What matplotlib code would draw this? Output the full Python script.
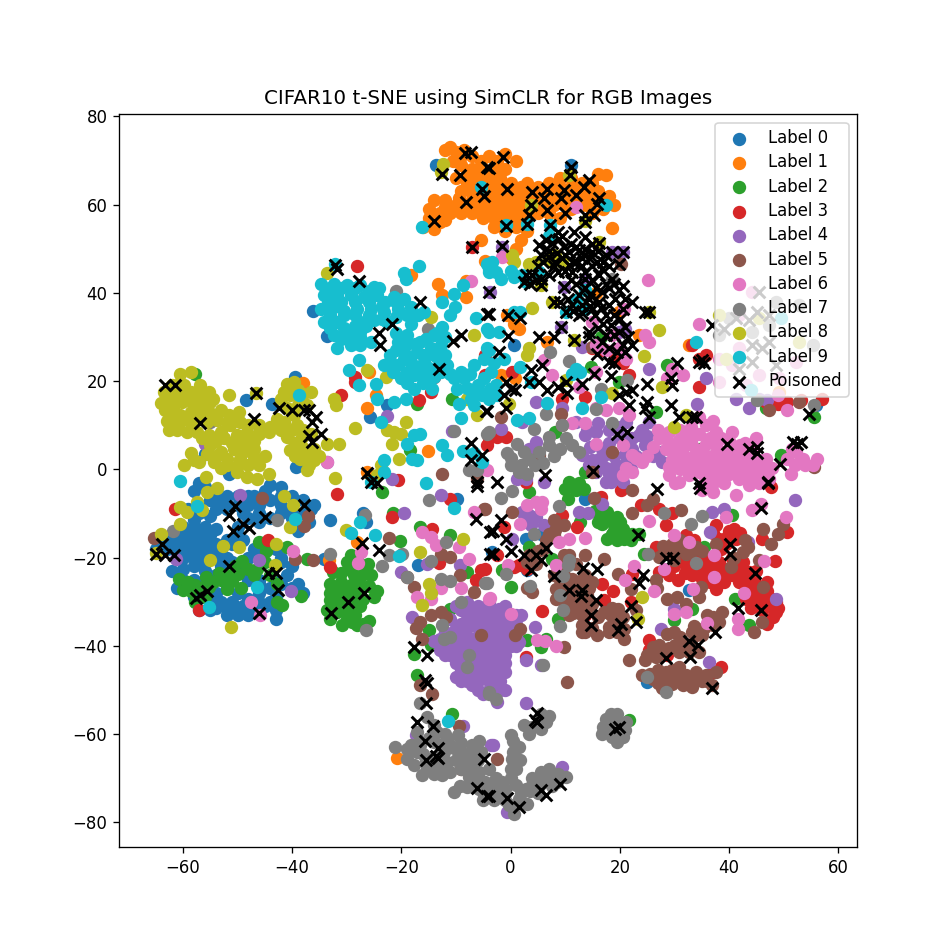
import matplotlib
matplotlib.use("Agg")
import matplotlib.pyplot as plt

TITLE = "CIFAR10 t-SNE using SimCLR for RGB Images"

label_0 = [(-58,-5),(-57,-3),(-56,-4),(-54,-5),(-53,-7),(-55,-7),(-57,-8),(-52,-8),(-50,-8),(-48,-8),(-47,-6),(-45,-5),(-44,-3.5),(-46,-8),(-44,-7),(-42,-8),(-40,-6),(-38,-7),(-36,-8),(-40,-9),(-38,-10),(-37,-12),(-39,-14),(-42,-10),(-44,-11),(-46,-12),(-48,-11),(-50,-13),(-52,-9),(-59,-9),(-57,-10),
(-60,-13),(-58,-13),(-61,-15),(-59,-15),(-57,-15),(-55,-15),(-62,-16),(-64,-16),(-65,-18),(-63,-18),(-61,-18),(-59,-18),(-57,-18),(-55,-18),(-53,-18),(-51,-17),(-49,-16),(-47,-18),(-60,-20),(-58,-20),(-56,-21),(-54,-20),(-52,-20),(-56,-23),(-54,-24),(-60,-25),(-58,-25),(-61,-27),(-50,-23),(-48,-25),(-46,-25),(-42,-20),(-43,-18),(-42,-21),(-46,-26),(-43,-25),(-46,-28),(-44,-27),(-42,-26),(-40,-27),(-38,-28),(-39,-26),(-55,-30),(-53,-30),(-51,-30),(-49,-31),(-47,-31),(-45,-31),(-43,-32),(-55,-32),(-52,-33),(-50,-33),(-48,-33),(-57,-32),(-43,-34),(-42.5,-31),(-54,-28),(-52,-27),(-50,-28),
(-62,-17),(-60,-17),(-58,-17),(-56,-17),(-54,-17),(-52,-16),(-50,-15),(-60,-14),(-58,-14.5),(-56,-13),(-54,-13.5),(-61,-19.5),(-59,-19.5),(-57,-19.5),(-55,-19.5),(-53,-22),(-51,-21),(-58,-22),(-60,-22.5),(-62,-23),(-48,-20),(-46,-18.5),(-56,-26),(-52,-31.5),(-50,-31.5),(-54,-31.5),(-48,-29.5),(-46,-30),(-44,-30),(-41,-24),(-40,-22),(-43,-29),(-52,-6),(-50,-6),(-48,-6),(-49,-10),(-46,-10),(-42,-6),(-40,-11),(-36.5,-9),(-42,-4),(-54,-9),(-55,-10.5),(-58,-11.5),(-56,-29),(-58,-29),
(-33,-11.5),(-27,-10),(-26.5,-12),(-39.5,21),(-48.5,15.6),(-43.6,14.9),(-56,3.5),(-46.7,1.7),(-51.6,-1),(-39.2,0.5),(-36.2,36),(-33.6,30.2),(-13.6,69),(-25.8,11.9),(-22.6,14.5),(2.8,-15.7),(13.7,-6.7),(32.7,-27.4),(24.9,-48.2),(55.9,14.5),(0.6,28.1),(11,69),(5.5,-14.6),(-3.4,-18.8),(3,-22.9),(-17,-21.8),(-34.2,-20.3),(-9.8,-6.7)]

label_1 = [(-10,72),(-8.5,72.5),(-7,71),(-5.5,70),(-4,71),(-2.5,70),(-1,71.5),(1,70),(-9,69),(-7,68),(-5,68),(-3,68),(-1,68),(-10,66),(-8,65),(-6,66),(-4,66),(-2,66),(0,65),(2,64),(-9,63),(-7,62.5),(-5,62),(-3,63),(-1,63),(1,63),(3,65),(5,64),(7,65),(9,66),(11,64),(13,65),(15,65),(16,67),(12,62),(14,62),(16,63),(18,62),(19,60),(17,59),(15,58),(13,60),(10,60),(8,62),(6,60),(4,61),(2,61),(0,60),(-2,60),(-4,60),(-6,60),(-8,60),(-10,60),(-12,61),(-14,61),(-15,59),(-13,58),(-11,58),(-9,58),(-7,58),(-5,57),(-3,57),(-1,57),(1,57),(3,58),(5,58),(7,58),(9,57),(11,59),(-15,57),(-16,55),(-14,54.5),(-13,56),(-3,55),(-1,54),(1,55),(3,54),(2,52),(1,50),(0,48),(-5.5,52),
(-12,72.5),(-11,73),(-10.5,70),(-9,71),(-8,67),(-6,67),(-3,66),(-9.5,61.5),(-7,61),(-4.5,61),(-2.5,61.5),(-12,59.5),(-10,59),(-8,59),(-6,59),(-4,58.5),(-2,58.5),(0,58.5),(2,59),(4,59.5),(6,61.5),(8,60),(10,62),(12,60.5),(14,60),(15,61),(17,61),(3,63),(5,62),(7,63.5),(9,64),(11,66),(13,63),(15,63.5),(-14,57.5),(-12,56.5),(-2,56),(0,55.5),(2,56),(-1,61),(1,61.5),(-6,64),(-4,64),(-2,64.5),(0,62),
(18.5,54.6),(17.4,66.7),(-18.3,44),(-13.2,42),(-12.5,39.5),(-8.2,42.7),(-8.2,39),(-4.6,47.2),(-38,19.6),(-26.2,13.8),(-15.1,4.1),(-26.2,-0.6),(-25.9,22),(-24.7,16.8),(-0.6,35),(1.5,31.9),(0.6,33),(32.7,28.1),(23.5,30.4),(6.7,28.9),(19.9,35.7),(15.6,40),(49.2,17.5),(-33.3,-20.6),(-20.8,-65.5),(-28.1,-16.5),(0.9,20.6),(-1.8,21.3)]

label_2 = [(-60.8,-24.8),(-59,-25.5),(-60,-27.3),(-57.7,-26.3),(-55.7,-24.4),(-54.4,-25.5),(-53.4,-23.4),(-55.3,-26.7),(-57.7,-30.1),(-52,-27.2),(-51,-25.4),(-50,-23.7),(-49.2,-20.9),(-49.3,-27),(-46.4,-22.5),(-46.1,-16.5),(-44.8,-18.6),(-40.9,-17.6),(-42.7,-30),(-41.8,-30.8),(-38.3,-28.7),(-42.7,-25.9),(-56.5,-27),
(-58.5,-27.5),(-56,-29),(-53,-25),(-52,-24),(-50.5,-22),(-48,-22.5),(-45,-21),(-44,-24),(-47,-24),
(-29.3,-19.5),(-26.1,-21.4),(-28.7,-24),(-27.2,-24),(-25.6,-24),(-33,-25.9),(-31.1,-25.5),(-29.3,-26.3),(-27.5,-26.3),(-32,-27.8),(-30.2,-27.8),(-28.4,-28.2),(-25,-29),(-33,-29.7),(-31.1,-30.1),(-29,-30.5),(-33.6,-32),(-31.7,-32.4),(-29.9,-32.4),(-33,-34),(-30.8,-35.4),(-29,-34.6),(-25.9,-34.5),(-28.1,-35.4),(-32.5,-23.3),
(-30,-21),(-28,-21),(-31,-23.5),(-29.5,-22.5),(-26.5,-22.5),(-31.5,-29),(-29.5,-29),(-27,-29.5),(-27.5,-31),(-30.5,-31.5),(-28.5,-33),(-32,-31),(-30,-34),(-27,-35),(-26,-26.5),(-33,-28),(-28,-26),(-24.5,-27.5),
(-20.3,-16.3),(-16.6,-13.1),(-11,-15),(-21.5,-10),(-23.5,-5.1),(-37.2,-20.3),(-10.7,-55.4),(-17.2,-46.7),(-14.6,-39.9),(-17.7,-41.8),(-14.9,-36.5),(-11,-31.6),(-7.9,-23.3),
(10.7,-3.2),(11.9,-4.8),(13.4,-4.4),(10.6,-6.7),(16.5,-10.8),(17.7,-9.7),(19.5,-10.8),(16.8,-12.3),(18.9,-12.7),(20.5,-13.5),(18.6,-14.6),(17.7,-15.7),(20.8,-15.7),(22.3,-14.6),(23.5,-14.6),
(10,-4.5),(12.5,-3),(15.5,-9.5),(17,-9.5),(18,-11),(20,-12),(19,-14),(21,-14.5),(19.5,-16),(16,-12),(22,-16),
(3.4,-5.1),(0,-26.7),(3.1,-38.8),(5.5,-40.3),(6.4,-38.4),(8.6,-33.9),(33.3,-31.6),(29.9,-34.2),(43.7,-35.4),(21.7,-56.9),(24.4,-19.1),(35.4,-17.6),(40.6,-10.4),(3.4,-17.6),(7.6,-20.3),(-1.5,-22.9),(12.8,-12),(41.1,-29.5),(28.7,23.6),(14.7,23.2),(19.9,19.8),(34.5,4.7),(55.6,11.9),(49.5,3.2),(8.2,8.5),(10.7,-2.9),(13.7,-0.6),(46.7,13.8),(16.5,30),(26.6,13),(-57.7,21.7),(-10.7,16),(-17.1,14.9),(-18.4,4.3)]

label_3 = [(40.9,-13.5),(39.7,-15.3),(38.2,-15.7),(41.2,-15.7),(37.6,-12.7),(39.4,-16.9),(50.7,-14.2),(46.1,-15.7),(48.4,-20.9),(38.2,-21),(39.4,-22.5),(41.8,-22.9),(43.7,-23.3),(35.4,-23.3),(36.9,-21.8),(32.1,-21.8),(33.3,-24),(35.1,-24.8),(37.6,-27.1),(39.1,-25.6),(41.8,-25.6),(43.7,-26.7),(43.1,-29.3),(44.9,-27),(47,-25.6),(47.9,-29.3),(48.6,-32.4),(46.7,-30.1),(44.9,-30.1),(47,-35),(48.6,-30.1),(27.2,-23.3),(29,-24),(30.7,-25.2),(26.6,-17.6),(32.1,-15),(33.6,-16.1),(29.6,-10),(28.4,-12.7),(27.2,-8.9),(23.8,-8.2),(20.2,-4.8),(16.5,-6.3),(9.5,-10.4),(12.2,-13.1),(16.8,-25.9),(17.1,-29.7),(5.8,-32.2),(18.8,-27.7),(22.3,-23.7),(22,-30),(2.8,-42.5),(38.5,-44.8),(37,-46),(13.7,-33.1),(1.5,-21.8),(3.1,-22.5),(0.6,-22.1),(-4.6,-22.5),(-2.4,-19.5),(-1.2,-13.1),(28.7,-42.2),(25.4,-38.8),(25.4,-41),(3.7,-19.5),(2.1,-21.4),(47.7,-4),
(37,-14.5),(40,-14),(42,-14.5),(38.5,-18),(40.5,-20),(36,-20),(33.5,-22.5),(35.5,-21),(38,-24),(36.5,-25.5),(40.5,-24),(42.5,-24.5),(44.5,-25),(45,-28.5),(46,-28),(47,-27.5),(47.5,-31),(46,-32),(44,-31.5),(48,-33.5),(49,-31.5),(32,-23.5),(31,-20),(34,-20.5),(30,-22),(42.5,-21),(45,-23),
(34.5,18.7),(47.3,14.5),(48.9,14.9),(50.7,15.3),(57.1,16),(46.7,15.3),(53.1,15.7),(13.6,16.4),(21.7,21.3),(9.5,16),(0.3,22),(-2.4,7.3),(-4,7),(-0.9,7.3),(20.2,-1.4),(2.8,-2.9),(14.9,27.4),(18.9,24.7),(20.5,24),(16.8,27),(34.5,25),(33.3,28.1),(35.7,25.8),
(-28.1,46),(-7.1,50.3),(-31,16.9),(-28.5,21),(-28.4,19.8),(-16.8,15.6),(-14.6,17.5),(-14,21),(-20.7,-2.5),(-4.3,5.4),(-4.6,25.8),(-4.6,21.3),
(-31.7,-5.5),(-61.4,-9.1),(-44.4,-16),(-57,-31.8),(-33,-22.1),(-21.7,-10.8),(-14.3,-13.5),(-11.1,-6.8),(-13.1,-21.2),(-6.4,-25.2),(-5.5,-22.9)]

label_4 = [(-10,-31),(-8,-30),(-6,-31),(-4,-30),(-3,-32),(-1,-31),(-8,-33),(-6,-33),(-4,-34),(-2,-34),(0,-33),(2,-33),(-11,-34),(-9,-35),(-7,-35),(-5,-36),(-3,-36),(-1,-36),(1,-35),(-12,-37),(-10,-37),(-8,-38),(-6,-38),(-4,-38),(-2,-38),(0,-38),(-14,-39),(-12,-40),(-10,-40),(-8,-40),(-6,-40),(-4,-40),(-2,-40),(0,-40),(-13,-41),(-11,-42),(-9,-42),(-7,-42),(-5,-42),(-3,-42),(-1,-42),(-10,-44),(-8,-44),(-6,-44),(-4,-44),(-2,-44),(-1,-46),(-3,-46),(-5,-46),(-7,-46),(-10,-47),(-8,-48),(-6,-48),(-4,-48),(-2,-48),(-1,-50),(-3,-50),(-5,-51),(-7,-49),(-6,-50),
(-9,-32),(-7,-32),(-5,-32),(-10,-36),(-8,-36),(-6,-36),(-4,-36.5),(-2,-36.5),(0,-36),(-13,-38.5),(-11,-38.5),(-9,-38.5),(-7,-38.5),(-5,-38.5),(-3,-38.5),(-1,-38.5),(-12,-42),(-10,-42),(-8,-41),(-6,-41),(-4,-41),(-2,-41),(-9,-43),(-7,-43),(-5,-43),(-3,-43),(-1,-44),(-9,-45.5),(-7,-45),(-5,-45),(-3,-45),(-9,-48),(-7,-47),(-5,-47),(-3,-47),(-4,-50),(-2,-50),(1,-40),(1,-38),(-3,-34.5),(-1,-34),(1,-33),(-5,-34),
(14.4,0.9),(16.2,2.4),(17.4,0.2),(19.3,0.9),(21.1,1.7),(19.9,-1.4),(15.6,-0.6),(22.3,4.7),(23.5,7.7),(24.7,5.4),(21.1,10.7),(25.4,10.7),(11.9,10.7),(13.7,7.7),(15.6,8.5),(16.8,4.7),(13.1,3.2),(22.3,7),(27.2,4),(27.8,1.7),(20.5,-2.9),(18.3,-2.9),(17.4,-2.9),
(17,3),(19,3),(21,3.5),(15,2),(18,-1),(22,0),(23,3),(25,7.5),(20,7),(18,9),(16,10.5),(14,9),(26,3),(24,9),(20,9.5),(18,6),(14.5,5),
(41.2,16),(43.7,13.8),(45.5,16),(47,15.7),(-3.7,40.2),(-1.5,50.4),(18.6,49.3),(20.5,49.3),(9.8,41.4),(13.7,43.2),(9.2,32.3),(19.9,31.1),(21,31.9),(13.1,27.7),(25.4,22.8),(35.7,20.6),(34.2,14.9),(4.6,15.3),(2.1,10.8),(-1.8,9.2),(3.4,4.7),(2.8,-2.1),(5.2,2.4),(1.2,-2.1),(4.6,6.2),(9.5,13.8),(6.1,-2.9),
(2.1,-9.7),(3.4,-10.4),(4.6,-10.8),(6.1,-12.7),(2.4,-12),(3.7,-12.7),(12.5,-9.7),(14.1,-10),(16.8,-7.8),(36.5,-14.2),(36.8,-9.7),(39,-8.9),(43.4,-16.5),(52.1,-7),(48.6,-29.3),(29.9,-31.6),(27.5,-36.1),(36.4,-43.7),(4.5,-35.8),(1.5,-39.1),(-0.6,-40.3),(2.8,-43.3),(5.5,-44.4),(2.8,-53.1),(-3.2,-62.4),(-2.1,-31.6),(-2.4,-52.8),(0.3,-15.7),(9.5,-67.5),(-0.6,-77.7),(-2.1,-47.1),(-2.1,-43.7),
(-49.5,-5.9),(-61.2,-20.3),(-46.1,-20.6),(-40.2,-27.6),(-19.6,-9.9),(-20.1,-23.3),(-12.8,-5.9),(-9.2,-21.8),(-18,-33.5),(-15.3,-21.4),(-8.8,-58.1),(-17.4,-60.3),(-3.6,-62.6),(-22.6,12.1),(-10.7,8.6),(-21.7,-2.1),(-55.9,5.8),(-33.6,1.7)]

label_5 = [(28.4,-46),(29.6,-45.6),(30.8,-44.8),(32.1,-46.7),(33.3,-47.5),(34.5,-47.1),(35.7,-46.7),(37.6,-46),(27.2,-47.1),(26,-47.5),(24.1,-46.7),(27.8,-49.7),(29.6,-48.6),(31.5,-49),(33.3,-49.4),(36.9,-49),(21.7,-43.2),(24.7,-43.3),(26.6,-42.6),(26,-40.3),(27.2,-39.9),(30.2,-39.9),(30.8,-41.4),(32.7,-41.4),(34.5,-41.4),(33.3,-36.9),(35.1,-37.6),(37,-35.4),(38.8,-32.4),(36,-33.1),(38.2,-34.6),(28.7,-29.3),(30.5,-29),(32.1,-30.5),(34.5,-29),(34.8,-26.7),(29.9,-36.9),(28.7,-37.3),
(25.5,-46.5),(27,-45.5),(31,-47),(30,-47.5),(28.5,-47.5),(32,-48.5),(35,-48),(27,-48.5),(34,-46),(36,-48),(25,-42),(27.5,-41.5),(29,-40.5),(31.5,-40),(33,-39.5),(31,-38),(34,-37.5),(35.5,-36),(37,-33.5),(33.5,-35.5),
(10.7,-19.5),(13.7,-19.5),(17.1,-20.3),(7.9,-24),(9.8,-24),(11.3,-24.8),(13.7,-24),(14.9,-25.6),(8.3,-27.1),(10.1,-26.3),(12.5,-26.3),(14.4,-27),(8.3,-29.3),(11.3,-29.3),(13.4,-29.3),(11.9,-31.2),(13.7,-31.2),(10.7,-33.1),(13.1,-35.4),(13.7,-36.9),(15.9,-37.6),(17.1,-32.4),(18.3,-33.1),(19.6,-31.6),(18,-35.8),(19.6,-34.6),(20.8,-38.4),(20.8,-36.1),(19.6,-23.7),(22,-27.1),(26.6,-25.2),(26.9,-27),(22.9,-32),(10.4,-48.2),(-2.4,-65.6),(4,-27.8),(3.1,-27),
(9,-25),(11,-27.5),(13,-25),(9.5,-28),(12,-28),(14,-28.5),(10,-30.5),(12.5,-30.5),(15,-30.5),(11.5,-32.5),(13,-33),(16,-33.5),(14,-31.5),(13,-37),(15,-36),(18.5,-31.5),(20.5,-33.5),(18,-37),(19.5,-37),(9.5,-22),(12,-21.5),
(29.6,-16.9),(30.8,-18.4),(32.1,-19.1),(33.9,-17.6),(29,-18.7),(27.2,-19.9),(37.6,-16.9),(42.5,-18.7),(43.4,-17.6),(40.3,-22.1),(45.5,-20.6),(47.7,-16.9),(48.9,-14.6),(49.8,-12.3),(46.2,-13.5),(46.2,-26.7),(46.1,-34.6),(44.6,-36.9),(31.2,-9.3),(25,-8.2),(22.3,-9.8),(22.3,-4.8),(26,-6.7),(15.2,-6.5),
(31,-16),(28,-17.5),(30,-20.5),(31.5,-17.5),(35,-18.5),(33,-19),(43,-16),(41,-20),(6,-18),(3,-21),(5,-18.5),(8,-15),
(7.9,-11.6),(9.8,-12.7),(8.2,-13.8),(7,-14.6),(6.4,-16.1),(9.8,-19.5),(3.4,-19.5),(4.6,-21.4),(0.2,-9.7),(-4.6,-8.9),(0.9,-37.6),(1.8,-36.1),(9.8,-40.3),
(-45.5,-6.5),(-37.1,-10.6),(-37.9,-12.9),(-65.3,-15.6),(-39.4,-20.3),(-36.2,-20.5),(-22.2,-15.5),(-18.9,-24.4),(-17.7,-26.7),(-12.8,-19.1),(-11,-19.9),(-9.2,-24),(-6.7,-27.8),(-4.9,-8.9),(-12.8,-32.4),(-14.6,-33.1),(-16.5,-34.6),(-17.4,-36),(-11.9,-33.5),(-16.2,-38.4),(-14.3,-50.9),(-16.6,-49),(-9.5,-58.1),(-9.1,-67.9),(-5.5,-37.5),
(-12.5,-1),(-6.1,-2.1),(15,27.8),(9.2,12.6),(9.5,10),(18.6,4),(55.6,0.5),(47.3,13.4),(52.8,15.3),(20.2,46.6),(-1.8,11.9),(5.2,3.2),(14.9,-0.6)]

label_6 = [(27.2,7),(29,8.5),(30.9,6.6),(32.7,7.7),(34.5,11.9),(35.7,10),(37.6,8.5),(40.6,8.5),(28.4,4.7),(30.2,3.9),(32.1,5.4),(33.9,4.7),(35.7,5.8),(37.6,5.4),(38.8,3.9),(40.6,4.7),(42.5,3.2),(44.3,4.7),(44.9,7),(46.7,2.4),(47.9,0.2),(46.1,0.2),(44.3,0.9),(42.5,0.9),(40.6,1.7),(38.2,1.7),(36.4,1.7),(34.5,1.7),(32.7,1.7),(30.9,2.4),(29,-1.4),(30.9,-2.9),(32.7,-1.4),(34.5,-0.6),(36.4,-1.4),(38.2,-1.4),(40,-1),(41.8,-2.1),(43.7,-2.1),(45.5,-2.1),(47.3,-2.1),(50.7,2.4),(52.2,3.9),(53.5,2.4),(56.2,2.4),(55.3,0.9),(51.3,-1),(51.6,4.7),
(29,6),(31,5),(33,6.5),(34.5,8),(36.5,7),(38.5,7),(40,6.5),(42,5.5),(43,6),(29.5,2),(31.5,3.5),(33.5,3),(35.5,3.5),(37.5,3.5),(39.5,2.5),(41.5,2.5),(43.5,2.5),(45.5,2),(45,-1),(43,-0.5),(41,-0.5),(39,0),(37,0),(35,0),(33,0),(31,0),(29,0.5),(35.5,-3),(37,-3),(39,-3),(47,-1),(52,1),(54,1),(26,5),(25,3),(27,9),(37,11),(33,9.5),(31,9),(23,2.5),
(22.3,3.2),(24.1,1.7),(21.1,0.2),(20.5,-1.4),(22.3,-0.6),(29.6,22.8),(28.7,20.6),(31.5,21.3),(24.7,30.4),(25.4,28.9),(25.2,42.9),(11.9,59.5),(-1.5,48.2),(34.5,33),(19.9,13.8),(15.6,13.8),(17.4,13.4),(13.7,10.4),(11.3,10.4),(15.6,5.8),(21.7,12.3),(20.5,5.4),
(38.2,25),(41.8,27.4),(44.3,40.2),(41.8,34.9),(40.6,23.6),(45.5,21.3),(49.2,20.6),(50.7,13.4),(48.9,16.8),(38.2,19.8),(43.1,19),(52.2,24.3),(19.9,27.4),(21.1,25.1),(15.6,28.1),(17.4,27),(12.5,18.7),(7.6,21.3),(6.1,24.7),(15.6,22),(18.6,30.4),(15,33.4),(20.8,36.4),
(3,-8.2),(4.6,-7.4),(5.8,-7.4),(5.5,-9.1),(1.7,-12.3),(8.9,-16.5),(10.7,-15.7),(13.6,-15.6),(8.4,-21.8),(-0.4,-21.6),(-3.7,-29.2),(0.1,-32.7),(4.9,-38.8),(6.3,-38.9),(8.4,-40.1),(22.6,-21.9),(20.9,-25.2),(28.1,-22.5),(26.3,-27.7),(29.9,-14.8),(32.6,-16.5),(25.4,-11.8),(33.4,-27.1),(30,-32.7),(32.1,-32.4),(36,-34.8),(41.7,-33.9),(41.7,-36.1),(42.8,-28),(37.3,-19.5),(37.3,-24.4),(46.4,-20.8),(39.4,-10.8),(41.2,-5.9),(44.3,-9.3),(45.9,-7.8),(50.5,-10.8),(37,-5.1),(35.7,-4),(35.1,-4.8),(30.2,-3.2),(43.7,-3.6),(45.5,-3.2),
(-39.8,-18.6),(-47.5,-30.1),(-45.8,-33.1),(-27.3,-18.7),(-28,-21.2),(-16.2,-14.2),(-14.6,-15.3),(-13.7,-17.2),(-9.5,-17.6),(-7.6,-20.3),(-12.8,-27),(-9.1,-26.9),(-17.2,-29),(-14.6,-29.3),(-6.7,-9.7),(-3.9,-29.3),(-7.3,42.7),(-33.6,1.7),(-4.3,-0.2)]

label_7 = [(-21.1,-63),(-18.3,-62.6),(-18.9,-65.6),(-17.1,-64.1),(-15.3,-67.9),(-13.4,-67.1),(-17.7,-67.1),(-16.2,-69.4),(-12.5,-69.4),(-11,-68.6),(-10.4,-73.2),(-9.2,-71.7),(-7.3,-67.9),(-7.6,-69.8),(-5.8,-61.5),(-7.3,-64.1),(-5.8,-68.6),(-4.9,-73.9),(-5.8,-72.4),(-11.6,-61.1),(-9.7,-60.3),(-13.4,-59.6),(-15.3,-56.2),(-17.1,-59.6),(-14,-61.8),(-10.4,-63.3),(-12.2,-64.1),(-9.1,-64.1),(-16.5,-62.6),(-14.6,-65.6),(-11.6,-66.4),(-7.9,-66.4),(-16.5,-53.1),(-3.9,-50.5),(-26.5,-36.5),(-12.2,-38.4),(-11,-38),(-7.9,-44.8),(-7.6,-42.2),(-12.6,-35.4),(-9.1,-30.1),(-12.8,-24.8),(-11,-25.4),(-14.6,-20.9),(-11.9,-16.5),(-22.3,-19.5),(-19.8,-19.1),(-23.5,-22),(-18.9,-24.4),(-33,-19.3),(-26.6,-10.3),(-14.9,-7),(-42.7,-11.6),(-61.9,-14.1),(-4.6,-25.7),
(-19,-63.5),(-17,-62),(-16,-64.5),(-15,-61),(-13,-62.5),(-11,-62.5),(-9,-62),(-7,-62.5),(-5.5,-64),(-12,-60),(-14,-58),(-15.5,-66),(-13.5,-65.5),(-10,-66),(-8.5,-65),(-6,-66),(-9,-68),(-14,-69),(-12,-67.5),(-8,-72),(-6,-70),(-4,-68),(-3.5,-71.5),(-2,-72),(-5,-75),(-3,-75),(-1,-75),(1,-76),(2,-73.5),(3.5,-73),(5,-73.5),(4,-71.5),(6,-70),(7,-70),(8.5,-71),(1,-71.5),(0,-70),(1,-68),(-1,-72.5),(0.5,-61.5),(0.5,-64),(19,-58),(18,-58),(20,-58),(17,-58.5),(21,-59),(18,-59.5),(5.5,-57),(4,-58.5),(7,-56),(3,-1),(4.5,1),(6,1.5),(8,3),(9,4.5),(0,2.5),(2,1),
(-4.6,-70.9),(-2.7,-70.1),(-1.5,-70.9),(-3.4,-73.2),(-1.2,-73.9),(0.6,-78.1),(-0.3,-76.2),(1.5,-74.7),(3,-75.8),(2.8,-72.4),(4,-70.1),(5.5,-68.6),(7,-67.9),(8.6,-69),(10.1,-69.8),(5.2,-71.7),(7.6,-71.7),(0,-60.3),(1.5,-63),(0.3,-65.6),(1.8,-66),(0,-67.9),(2.4,-58),(3.4,-60),(5.5,-55.4),(6.4,-57.3),(5.5,-58.8),(18.3,-55.4),(19.5,-55.4),(17.4,-56.6),(21.1,-57.3),(16.8,-60),(18.6,-60.7),(20.5,-60.7),(19.5,-61.8),(-4,-50.9),(-2.7,-52),(6,-44.4),(9,-28.4),(9.6,-24.2),(10.7,-20.6),(10.6,-21.8),(9.6,-31.8),(9,-35.5),(3.5,-26.5),(-0.9,-23.7),(-4.3,-25.8),(-1.8,-6.5),(0.2,-5),(8.9,-8.4),(4.3,-14.6),(28.1,-9.8),(35.1,-10.7),(33,-12.5),(25.1,-19.3),(34,-21.2),(24.9,-47.1),(28.4,-50.5),
(7.3,26.5),(10.7,24.6),(16.5,18.3),(21.4,20.2),(15.7,13.6),(6.4,12.6),(4.3,9.2),(9.5,10.1),(18.6,10.4),(7,7.3),(1.2,5.8),(2.4,3.9),(-0.6,3.6),(3.4,2.4),(0,0.9),(1.5,-0.6),(5.2,3.9),(7,5.4),(10.1,7),(11.3,5.4),(12.5,3.9),(-4,8.5),(18.6,43.2),
(45.2,15.7),(55.6,14.5),(48.6,38),(52.8,37.2),(55.3,28.1),(40,34.2),(44.3,31.1),(47.3,32.7),(38.2,30.4),(-21,40.4),(-15.2,31.7),(-7.6,-0.2),(-6.1,-0.2),(-4.3,8.1),(-55,10.7),(-10.4,8.6)]

label_8 = [(-60.5,21.7),(-58.6,22),(-63.5,17.5),(-62.3,16),(-61.1,17.5),(-59.8,19),(-58.6,17.5),(-56.8,19),(-55.3,17.5),(-63.2,13.4),(-61.7,14.5),(-60.1,15.3),(-58.3,15.3),(-56.5,16),(-55,15.3),(-62.3,12.3),(-60.5,12.3),(-58.6,13),(-56.8,13.8),(-55.3,13),(-53.1,13.4),(-62.6,8.8),(-60.8,10.4),(-59.2,8.5),(-58.3,10.4),(-55.6,10.7),(-53.7,11.1),(-51.6,12.3),(-49.8,13),(-51.6,16.8),(-46.7,17.2),(-55.3,7.7),(-53.1,8.5),(-51.3,10),(-49.5,10.7),(-48.2,8.5),(-45.8,8.9),(-44.3,8.5),(-55,5.4),(-52.5,7),(-50.1,7.7),(-48.2,5.8),(-47,4.7),(-53.1,3.9),(-50.7,4.7),(-58.6,3.6),(-59.8,1),(-57.1,1.6),(-54.3,1.6),(-51.9,2.4),(-49.5,2.4),(-47,2.8),(-53.1,0.2),(-50.1,-0.6),(-48.2,-1.7),(-46.4,-2.1),(-44.3,-1),(-55.7,-1.7),
(-61,19),(-62,19),(-60,17),(-57.5,17),(-54.5,16),(-64,15),(-63,11),(-61,11),(-59.5,11.5),(-57,12),(-54,12),(-52,10.5),(-50.5,11.5),(-61,9),(-57.5,8.5),(-56.5,7),(-54,6.5),(-51,6),(-49,6),(-47,6.5),(-46,8),(-54,3),(-52,1),(-50,1),(-48,1),(-49,4),(-55.5,3.5),(-58,2),(-46,1),(-45,3),(-40.5,18),(-39,18),(-38,17),(-41,14),(-39,14.5),(-42,9),(-40,9),(-38,9),(-39.5,6),(-36.5,8),(-37.5,3.5),(-39.5,3),(-37,1),(-35,3),(-43,10),(-46,10),(-48,10),
(-40.9,19.4),(-39.7,19.8),(-41.5,17.5),(-40.3,16.8),(-36.6,17.5),(-38.5,15.3),(-42.1,16),(-37.2,14.5),(-42.7,11.5),(-39.7,12.3),(-44,9.6),(-41.5,10.7),(-40.9,7.3),(-39.1,10),(-38.2,7.3),(-40.3,4.3),(-38.2,5.1),(-36,4.7),(-33.6,5.8),(-31.5,5.8),(-38.5,2.4),(-36,2),(-37.2,-0.2),(-32.3,16),(-32,14.5),(-28.5,9.4),(-32.2,-2),(-20.4,2.4),(-19.2,10.8),(-21.4,8.5),(-20.1,8.1),(-22.6,8.8),(-21.7,5.8),(-26.2,22.4),(-22.9,21),(-14.6,34.5),(-33.6,44.4),(-12.3,69.3),(-12.8,67.4),(-23.8,1),(-24.4,-1.4),(-7.9,16),(-6.1,12.3),(-6.7,30.4),
(-51.1,-35.8),(-60.5,-12.3),(-59.2,-9.7),(-60.5,-8.5),(-64.1,-14.6),(-56.5,-9.3),(-57.5,-7.4),(-55.6,-5.1),(-53.7,-4.2),(-52.6,-17.4),(-49.8,-17.6),(-55.1,-20.6),(-42.9,-16.9),(-40.4,-13.1),(-39.8,-8.2),(-41.4,-6.1),(-43.2,-21.6),(-64.9,-18.9),(-30.2,-13.8),(-16.6,-18.7),(-14.9,-26.1),(-14.5,-28),(-16.2,-30.8),(-8.7,-15.9),
(4,36.6),(0.3,48.5),(0.6,47),(3.4,46.6),(4.6,47),(3.1,25.8),(3.4,27.4),(27.2,31.5),(24.4,25.7),(27.8,18.7),(18.6,17.2),(29.9,9.6),(32.1,12.3),(10.1,20.2),(-0.3,14.9),(11.6,29.3),(8.2,48.5),(10.7,66.7),(3.7,60),(13.7,56.2),(5.5,41.7),(16.2,51.5),(7.6,38),(25.4,35.7),(7,47.4),(9.5,47),(38.2,34.9),(45.5,34.2),(52.8,28.9),(39.4,25.1),(24.1,-29),(23.3,-34)]

label_9 = [(-34.8,42.1),(-32.4,42.1),(-29.9,41.7),(-27.5,41.7),(-25,41.3),(-34.2,39.5),(-31.7,39.5),(-29.3,39.5),(-26.9,39.1),(-24.4,39.5),(-21.4,39.1),(-19.5,38.7),(-34.8,36.4),(-32.4,36.8),(-30.5,36),(-28.1,36.4),(-25.6,36.4),(-23.2,35.7),(-20.7,36.4),(-18.3,36.8),(-15.9,35.7),(-34.2,33.4),(-31.7,33.4),(-27.5,33.4),(-25,33.8),(-22.6,33.4),(-18.3,33),(-32.4,30.4),(-29.9,31.1),(-27.5,31.1),(-25.6,28.9),(-31.7,27.4),(-29.3,28.1),(-27.5,28.1),
(-33,41),(-31,41),(-28.5,41),(-26,40.5),(-24,41),(-33.5,38),(-31,38),(-28.5,38),(-26,38),(-23,38),(-21,38),(-33,35),(-30.5,35),(-28.5,35),(-26,35),(-23.5,34),(-21,34.5),(-19,35),(-17,35),(-33,32),(-30.5,32),(-28.5,32.5),(-26.5,32.5),(-31,29.5),(-29,29.5),(-27.5,30),(-23.5,37),(-33,37.5),
(-20.7,28.9),(-18.9,30.4),(-16.5,28.9),(-14,30.4),(-12.5,32.3),(-22,25.8),(-19.5,27.4),(-17.1,26.6),(-14.6,27.4),(-12.8,28.1),(-23.2,23.6),(-20.7,23.6),(-18.3,24.3),(-15.9,24.3),(-13.4,25.5),(-20.1,20.6),(-17.7,21.3),(-15.2,20.6),(-12.8,22),(-17.7,18.3),(-14.3,18.3),(-10.4,20.6),(-8.5,20.6),(-11.6,23.6),(-9.8,18.3),(-6.7,23.6),(-4.9,25.1),(-4.9,20.6),(-7.3,16),(-5.2,16.8),(-9.5,14.9),(-4.3,27.4),(-6.7,14.5),
(-21,31),(-19.5,29),(-17.5,28.5),(-15.5,29.5),(-13.5,31),(-12,30),(-21,27),(-18.5,25.5),(-16,26),(-14,26),(-12,26),(-22,24.5),(-19.5,25),(-17,23),(-15,23),(-13,23.5),(-21.5,22),(-19,22),(-16.5,21.5),(-14,21),(-11,21.5),(-19,19.5),(-16,19.5),(-9,22),(-7.5,21.5),(-8,18.5),(-6,19),(-6.5,17),(-3.5,22),
(-29.6,22.4),(-27.8,24.7),(-27.8,19),(-24.7,19.4),(-24.4,16),(-21.4,15.3),(-19.2,16),(-23.8,10.7),(-9,11.6),
(-19.5,44.4),(-16.8,46),(-19.2,43.2),(-10.4,39.8),(-8.8,41.7),(-12.5,38),(-10.1,36.8),(-11,34.9),(-6.4,34.2),(-4.3,31.9),(-4.3,46.6),(-4,44.7),(-32.1,46.6),(-16.2,55),(-5.5,64),
(-17.7,7.7),(-16.5,8.1),(-19,5.8),(-18,2.4),(-17.1,2),(-12.5,5.5),(-11.6,3.2),(-8.8,4.1),(-6.7,3.6),(-5.2,1.7),(-23.2,2),(-23.2,-0.6),(-15.4,-3.2),(-60.6,-2.7),(-38.7,16.9),(-25.6,-2.9),
(-4,45.5),(-2.7,44.8),(-1.8,43.2),(0,45),(0.6,43.6),(2.1,44),(2.8,42.5),(5.2,44.8),(17.4,59.9),(-0.8,55.3),(3,55.7),(7.2,55.5),(7,53),(10.1,35.7),(11.9,38.3),(13.7,40.6),(13.7,36.4),(0.6,35.7),(1.8,35.7),(-4,31.1),(-2.1,31.1),(-4,27),(-1.2,25.1),(-3,24),(1.8,23.2),(11.3,21.7),(12.8,22),(11.9,22.8),(-3.7,18.3),(-2.4,16.8),(-4,16),(-2.7,19),(16.5,16.4),(13.1,13.9),(6.7,15.1),(1.2,11.1),(3.4,11.7),(3.7,19.8),(34,28.9),(44,17.9),(49.5,34.2),(-3.4,47),
(-29.3,-14.4),(-27.6,-12),(-24.9,-15),(-20.4,-19.7),(-46.4,-26.8),(-55.3,-31.2),(-57.5,-8.3),(-39.5,-11.2),(-11.5,-57.1),(-10.4,-8.7)]

poisoned = [(-1.4,70.8),(-4,68.2),(11,68.6),(10.9,66.7),(-0.6,63.6),(4,62.9),(6.7,63.6),(6.1,61.4),(9.8,63.3),(11.9,62.1),(13.4,64),(14.4,65.5),(16.2,61.4),(15.9,60.2),(9.2,61.4),(3.7,60),(6.7,58.7),(9.9,58.2),(13.7,57.6),(15.3,57.6),(3.4,57.6),(3,55.7),(13.7,56.1),(-0.8,55.2),(7.2,55.5),(-1.5,50.6),(8.6,53.8),(11.6,53.7),(13.7,52.7),(16.2,51.2),
(5.2,50.8),(6.4,50),(7.6,51.2),(8.9,52.3),(9.8,50.4),(10.7,49.3),(5.5,48.5),(7,48.2),(8.2,47),(9.5,47.8),(10.7,46.3),(8.6,44.8),(12.5,49.7),(13.7,50),(14.9,49.3),(13.1,47.8),(14.4,47.8),(15.9,47),(17.4,48.5),(18.6,49.3),(20.5,49.3),(19.9,46.6),(16.8,45.5),(18.6,43.2),(13.7,44.8),(16.2,44),(13.7,43.2),(11.3,44.8),(11,42.9),(9.8,41.4),(5.5,41.7),(5.5,43.2),(4,44),(2.8,44),(2.4,42.5),(4.6,42.9),(13.7,41),(15.6,41),(16.8,40.2),(18,41),(19.9,40.6),(19.2,38.7),(22.3,38),(20.5,36.4),(18,37.2),(16.2,38),(14.4,38.7),(13.1,37.2),(15,36.4),(12.5,34.9),(11.3,37.2),(10.1,35.7),(7.9,38),(24.7,35.7),(25.4,35.7),(17.4,35),(18.3,32.7),(21,32.3),(9.2,32.3),(7.9,30),(5.2,30),(11.6,29.3),(14.4,31.1),(14.4,30),(16.8,28.9),(15.9,26.2),(18.9,30.4),(19.9,31.1),(20.5,28.1),(22.3,28.1),(21,26.6),(18,24.3),(18.9,24),(-0.4,35),(1.7,34.2),(-4,35.1),(-0.5,30.2),(-2.1,26.6),
(6,47),(7,49.5),(8.5,49),(10,48.5),(11.5,47),(12,50.5),(13,46),(15,46),(17,47),(15,43),(17.5,42),(14.5,39.5),(12.5,39.5),(10.5,38.5),(9,38),(15.5,35),(17,33),(19,35),(16,32),(20,34),(17.5,30.5),(21.5,30),(19.5,26.5),(18,27.5),(12,47),(13.5,48.5),(16,49.5),(6.5,52),(9.5,53),(7,44),(3.5,42),(5,46),(19,42),(20.5,41.5),(12,42),(14.5,37),(11.5,36),(13,35.5),(16.5,36.5),(21,38.5),(11,51),(10,45),(8,46),(18,46),(15,51),
(3.7,22.4),(5.8,23.6),(3.4,19.8),(5.2,19.8),(-0.9,19.8),(0,18.3),(-1.2,16.8),(0.9,17.9),(-0.9,13.8),(-4.3,13.2),(6.7,17.9),(8.6,18.7),(10.1,19.8),(10.4,17.2),(13.1,19.4),(15.3,21.7),(18.3,21.1),(19.9,16.8),(21.1,17.5),(22.3,17.9),(21.7,14.5),(25,19.4),(25,15.3),(24.7,13.8),(25.4,11.9),(29.4,20.6),(29.6,19),(30.5,24),(29.3,14.5),(30.8,11.9),(33.3,11.9),(34,11.9),(19.5,8.1),(21.4,8.5),(39.7,5.8),(43.7,4.7),(45.2,5),(45.2,3.6),(51.8,6.2),(52.5,5.8),(53.2,6.2),(49.3,1.1),(47.2,-2.9),(34.5,-3.2),(15.1,-0.5),(-2.4,-2.9),(6.3,-1.2),(34.5,24.3),(35.1,24.7),(35.4,24),
(36.9,32.7),(39.1,31.9),(41.2,34.2),(43.7,33.8),(45.5,40.2),(45.2,35.7),(47.3,34.9),(44.3,28.1),(47.3,28.9),(46.1,27.4),(44.3,24.3),(41.8,22.8),(48.6,23.6),(54.7,12.6),
(-63.2,19.2),(-61.4,19.2),(-46.7,17.2),(-56.9,10.4),(-46.9,11.5),(-42.4,14),(-40,13.5),(-37.9,13.5),(-36.9,13.4),(-35.7,11.9),(-36.3,10.7),(-36.9,7.5),(-34.8,7.9),(-36.3,6.3),(-32.1,46.4),(-31.7,45.4),(-27.7,42.6),(-24,31),(-21.7,32.9),(-23.9,28.1),(-16.5,38),(-13.1,22.8),(-10.5,29.2),(-9,30.4),(-14.1,56.2),(-8.2,60.5),(-12.6,66.9),(-9.3,66.8),(-8.3,71.6),(-7.3,72),(-4.4,68.6),(-5.2,63.5),(-4.9,61.9),(-7.1,50.3),(-3.9,40.2),(-4.3,35.1),(-4.5,13.2),(-7.3,6),(-7.3,2),(-5.2,3.2),(-6.2,-2.9),(-26.2,-0.8),(-25.6,-2.9),(-24.4,-3.2),
(-63.8,-16.9),(-64.9,-19.1),(-63.2,-19.4),(-61.7,-19.5),(-50.4,-8.3),(-51.6,-10.4),(-45,-10.8),(-37.9,-8.2),(-49,-12.5),(-47.9,-13.3),(-50.9,-14.1),(-51.5,-21.9),(-44.4,-23.5),(-43,-23.5),(-42.6,-27.4),(-55.6,-27.7),(-56.8,-28.6),(-57.6,-29.2),(-46,-32.6),(-26.9,-28),(-29.7,-30.2),(-32.8,-32.6),(-27.2,-16.7),(-24.1,-18.2),(-17.7,-40.4),(-15.3,-42),(-15.6,-47.8),(-15.3,-48.4),(-15.4,-53),(-17.2,-57.4),(-14.2,-58.1),(-15.7,-61.7),(-13.3,-63.3),(-13.7,-64.9),(-13.2,-65.5),(-15.4,-65.8),(-4.9,-65.6),(-6.2,-72.3),(-4.3,-74.1),(-6.2,-3.8),(-6.4,-11.3),(-3.7,-14.2),(-3.7,-19.1),
(26.9,-4.5),(34.6,-4.2),(47.2,-3),(45.9,-8.7),(-1.8,-11.6),(-3.2,-14.1),(-0.9,-15.7),(0,-18.6),(-3.2,-19.1),(6.4,-17.8),(2.4,-19.4),(4.6,-19.5),(5.5,-20.6),(3.8,-22.9),(7.9,-24.3),(13.3,-22.3),(15.8,-22.6),(10.7,-27.4),(13.1,-27.4),(12.9,-28.7),(15.7,-29.6),(14.8,-33.1),(14.7,-35.2),(22,-31.1),(20.3,-35),(19.6,-36.5),(23,-34.6),(24.3,-23.9),(23.6,-25.7),(23.3,-14.8),(28.4,-20.1),(29.8,-20),(40.2,-16.9),(40.1,-19.3),(44.8,-23.5),(41.7,-31.4),(45.8,-32),(37.5,-36.9),(32.7,-39),(34.3,-39.9),(32.9,-42.6),(28.5,-42.7),(36.8,-49.7),(4.9,-55.2),(4.5,-56.9),(4.9,-57.3),(19.1,-58.8),(19.9,-58.4),(-3.97,-74.1),(-0.6,-74.5),(1.5,-76.6),(5.5,-72.6),(6.4,-73.8),(9,-71.3)]

series = [label_0, label_1, label_2, label_3, label_4, label_5, label_6, label_7, label_8, label_9]

fig, ax = plt.subplots(figsize=(8, 8), dpi=119)
for i, pts in enumerate(series):
    ax.scatter([p[0] for p in pts], [p[1] for p in pts], s=50, label=f"Label {i}")
ax.scatter([p[0] for p in poisoned], [p[1] for p in poisoned], c="black", marker="x", s=50, linewidths=1.8, label="Poisoned")
ax.set_xlim(-71.7, 63.4)
ax.set_ylim(-85.7, 80.5)
ax.set_title(TITLE)
ax.legend(loc="upper right", labelspacing=0.38)
fig.savefig("out.png", dpi=119)
